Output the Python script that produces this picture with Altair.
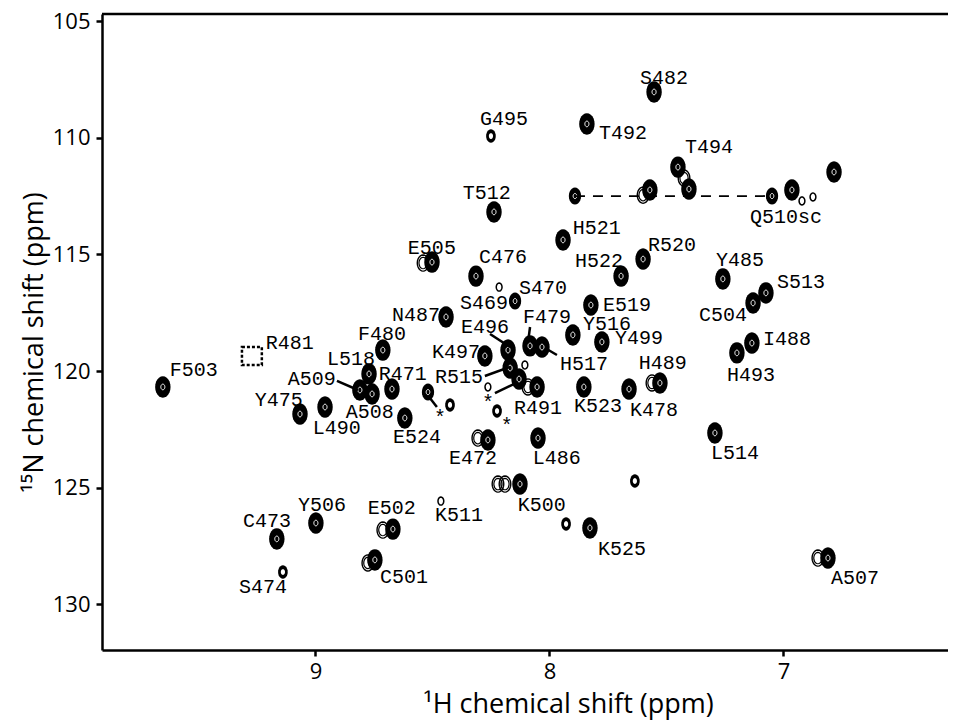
import math
import altair as alt
import pandas as pd

# ---------------- data (ppm) ----------------
peak_h = [7.553, 7.840, 8.250, 7.451, 7.404, 7.571, 7.891, 7.049, 6.964, 6.874,
          6.784, 8.237, 7.942, 8.502, 8.314, 8.215, 8.147, 8.442, 8.712, 9.652,
          8.771, 8.810, 8.758, 8.673, 9.066, 8.959, 8.618, 8.519, 8.425, 8.276,
          8.177, 8.168, 8.130, 8.083, 8.032, 8.053, 7.853, 8.224, 7.900, 7.776,
          7.823, 7.694, 7.600, 7.528, 7.660, 7.259, 7.130, 7.075, 7.199, 7.135,
          7.293, 8.263, 8.049, 8.126, 7.635, 8.464, 7.929, 7.827, 8.669, 8.746,
          8.998, 9.165, 9.139, 6.810, 8.263, 8.105, 6.921]
peak_n = [108.04, 109.41, 109.93, 111.26, 112.20, 112.24, 112.50, 112.50, 112.24, 112.54,
          111.47, 113.18, 114.38, 115.33, 115.93, 116.40, 117.00, 117.68, 119.10, 120.68,
          120.12, 120.81, 120.98, 120.77, 121.84, 121.54, 122.01, 120.90, 121.45, 119.35,
          119.10, 119.87, 120.34, 118.92, 118.97, 120.68, 120.68, 121.71, 118.45, 118.75,
          117.17, 115.93, 115.20, 120.51, 120.77, 116.05, 117.08, 116.65, 119.22, 118.80,
          122.65, 122.95, 122.87, 124.84, 124.71, 125.57, 126.55, 126.72, 126.77, 128.09,
          126.51, 127.19, 128.61, 128.01, 120.68, 119.74, 112.71]
peak_class = [3, 3, 1, 3, 3, 3, 2, 2, 3, 0,
              3, 3, 3, 3, 3, 0, 2, 3, 3, 3,
              3, 3, 3, 3, 3, 3, 3, 2, 1, 3,
              3, 3, 3, 3, 3, 3, 3, 1, 3, 3,
              3, 3, 3, 3, 3, 3, 3, 3, 3, 3,
              3, 3, 3, 3, 1, 0, 1, 3, 3, 3,
              3, 3, 1, 3, 0, 0, 0]

# weaker contour shoulders next to some peaks
shoulder_h = [8.306, 8.190, 8.220, 8.540, 8.712, 8.776, 6.853, 7.562, 8.092, 7.600, 7.425]
shoulder_n = [122.87, 124.84, 124.84, 115.37, 126.81, 128.22, 128.01, 120.51, 120.68, 112.46, 111.73]

label_text = ["S482", "T492", "G495", "T494", "Q510sc", "T512", "H521", "E505", "C476", "H522",
              "R520", "S470", "S469", "E519", "N487", "F479", "Y516", "E496", "Y499", "F480",
              "K497", "R481", "L518", "H517", "H489", "R471", "R515", "F503", "A509", "Y475",
              "A508", "L490", "K523", "K478", "R491", "E524", "E472", "L486", "K500", "K511",
              "E502", "Y506", "C473", "C501", "K525", "S474", "A507", "L514", "Y485", "S513",
              "C504", "I488", "H493"]
label_h = [7.613, 7.788, 8.297, 7.421, 7.143, 8.370, 7.900, 8.605, 8.301, 7.891,
           7.579, 8.130, 8.382, 7.771, 8.673, 8.113, 7.857, 8.378, 7.720, 8.818,
           8.502, 9.212, 8.951, 7.955, 7.618, 8.729, 8.489, 9.622, 9.118, 9.259,
           8.870, 9.011, 7.895, 7.656, 8.152, 8.669, 8.429, 8.071, 8.135, 8.489,
           8.776, 9.075, 9.310, 8.724, 7.793, 9.327, 6.797, 7.310, 7.288, 7.028,
           7.361, 7.088, 7.241]
label_n = [107.44, 109.80, 109.20, 110.40, 113.40, 112.37, 113.87, 114.73, 115.11, 115.28,
           114.60, 116.44, 117.08, 117.17, 117.60, 117.68, 117.98, 118.11, 118.58, 118.41,
           119.18, 118.80, 119.48, 119.70, 119.65, 120.12, 120.25, 119.95, 120.34, 121.24,
           121.75, 122.44, 121.50, 121.67, 121.58, 122.82, 123.72, 123.72, 125.74, 126.17,
           125.87, 125.74, 126.42, 128.82, 127.62, 129.25, 128.86, 123.51, 115.24, 116.18,
           117.60, 118.62, 120.17]

star_h = [8.468, 8.263, 8.182]
star_n = [121.80, 121.15, 122.14]

lead_h1 = [8.908, 8.254, 8.083, 8.019, 8.276, 8.511, 8.233]
lead_n1 = [120.42, 118.41, 118.11, 119.01, 120.21, 121.15, 120.94]
lead_h2 = [8.818, 8.169, 8.092, 7.968, 8.169, 8.481, 8.135]
lead_n2 = [120.81, 118.97, 118.80, 119.31, 119.82, 121.54, 120.47]

sc_h = [7.891, 7.049]      # Q510 side-chain NH2 pair
sc_n = [112.50, 112.50]

box_h = [9.314, 9.229]     # R481 (missing peak)
box_n = [118.97, 119.74]

x_ticks = [7, 8, 9]
y_ticks = [105, 110, 115, 120, 125, 130]

# ---------------- tables ----------------
peaks = pd.DataFrame({"h": peak_h, "n": peak_n, "c": peak_class})
shoulders = pd.DataFrame({"h": shoulder_h, "n": shoulder_n})
labels = pd.DataFrame({"h": label_h, "n": label_n, "t": label_text})
stars = pd.DataFrame({"h": star_h, "n": star_n, "t": ["*"] * len(star_h)})
leads = pd.DataFrame({"h": lead_h1, "n": lead_n1, "h2": lead_h2, "n2": lead_n2})
sc = pd.DataFrame({"h": [sc_h[0]], "h2": [sc_h[1]], "n": [sc_n[0]]})
box = pd.DataFrame({"h": [box_h[0]], "h2": [box_h[1]], "n": [box_n[0]], "n2": [box_n[1]]})

W, H = 846, 636
xs = alt.Scale(domain=[6.297, 9.912], reverse=True, nice=False, zero=False)
ys = alt.Scale(domain=[104.7, 131.95], reverse=True, nice=False, zero=False)

AX_FONT = "Open Sans"
x_axis = alt.Axis(values=x_ticks, format="d", grid=False, title="\u00b9H chemical shift (ppm)",
                  domainColor="black", domainWidth=2.5, tickColor="black", tickWidth=2.5,
                  tickSize=6, labelFont=AX_FONT, labelFontSize=22, labelColor="black",
                  labelPadding=5, titleFont=AX_FONT, titleFontSize=27, titleFontWeight="normal",
                  titleColor="black", titleX=466, titleY=62, titleBaseline="alphabetic",
                  titleAlign="center")
y_axis = alt.Axis(values=y_ticks, format="d", grid=False, title="\u00b9\u2075N chemical shift (ppm)",
                  domainColor="black", domainWidth=2.5, tickColor="black", tickWidth=2.5,
                  tickSize=6, labelFont=AX_FONT, labelFontSize=22, labelColor="black",
                  labelPadding=6, titleFont=AX_FONT, titleFontSize=27, titleFontWeight="normal",
                  titleColor="black", titleAngle=270, titleX=-60, titleY=328,
                  titleBaseline="alphabetic", titleAlign="center")

X = alt.X("h:Q", scale=xs, axis=x_axis)
Y = alt.Y("n:Q", scale=ys, axis=y_axis)
Xn = alt.X("h:Q", scale=xs)
Yn = alt.Y("n:Q", scale=ys)

# ellipse symbol (taller than wide, like HSQC contours)
pts = [(0.72 * math.cos(2 * math.pi * k / 24), math.sin(2 * math.pi * k / 24)) for k in range(24)]
ELL = "M" + " L".join(f"{px:.3f},{py:.3f}" for px, py in pts) + " Z"

base = alt.Chart(peaks)
axes_layer = base.mark_point(opacity=0).encode(x=X, y=Y)

layers = [axes_layer]
# shoulders: open contour outlines
sh = alt.Chart(shoulders)
layers.append(sh.mark_point(shape=ELL, filled=False, color="black", size=260, strokeWidth=1.4,
                            opacity=1).encode(x=Xn, y=Yn))
layers.append(sh.mark_point(shape=ELL, filled=False, color="black", size=130, strokeWidth=1.2,
                            opacity=1).encode(x=Xn, y=Yn))


def blobs(cls, size, inner):
    f = base.transform_filter(alt.datum.c == cls)
    outer = f.mark_point(shape=ELL, filled=True, color="black", size=size, opacity=1).encode(x=Xn, y=Yn)
    ring = f.mark_point(shape=ELL, filled=False, color="white", size=inner, strokeWidth=1.0,
                        opacity=1).encode(x=Xn, y=Yn)
    return [outer, ring]


layers += blobs(3, 460, 32)
layers += blobs(2, 290, 26)
c1 = base.transform_filter(alt.datum.c == 1)
layers.append(c1.mark_point(shape=ELL, filled=True, color="black", size=180, opacity=1).encode(x=Xn, y=Yn))
layers.append(c1.mark_point(shape=ELL, filled=True, color="white", size=34, opacity=1).encode(x=Xn, y=Yn))
c0 = base.transform_filter(alt.datum.c == 0)
layers.append(c0.mark_point(shape=ELL, filled=False, color="black", size=64, strokeWidth=1.5,
                            opacity=1).encode(x=Xn, y=Yn))

layers.append(alt.Chart(sc).mark_rule(color="black", strokeWidth=1.8, strokeDash=[10, 8]).encode(
    x=Xn, x2="h2:Q", y=Yn))
layers.append(alt.Chart(box).mark_rect(fill=None, filled=False, stroke="black", strokeWidth=2.5,
                                        strokeDash=[3, 2]).encode(x=Xn, x2="h2:Q", y=Yn, y2="n2:Q"))
layers.append(alt.Chart(leads).mark_rule(color="black", strokeWidth=2.5).encode(
    x=Xn, y=Yn, x2="h2:Q", y2="n2:Q"))
layers.append(alt.Chart(labels).mark_text(align="left", baseline="middle", font="Liberation Mono",
                                          fontSize=20, color="black").encode(x=Xn, y=Yn, text="t:N"))
layers.append(alt.Chart(stars).mark_text(align="center", baseline="middle", font="Liberation Mono",
                                         fontSize=20, dy=5, color="black").encode(x=Xn, y=Yn, text="t:N"))
# top frame line
layers.append(alt.Chart(pd.DataFrame({"a": [0]})).mark_rule(color="black", strokeWidth=2.5).encode(
    x=alt.value(0), x2=alt.value(W), y=alt.value(0)))

chart = alt.layer(*layers).properties(
    width=W, height=H,
    autosize=alt.AutoSizeParams(type="none"),
    padding={"left": 94, "top": 6, "right": 0, "bottom": 71},
).configure_view(stroke=None)

chart.save("out.html", embed_options={"renderer": "svg", "actions": False})
